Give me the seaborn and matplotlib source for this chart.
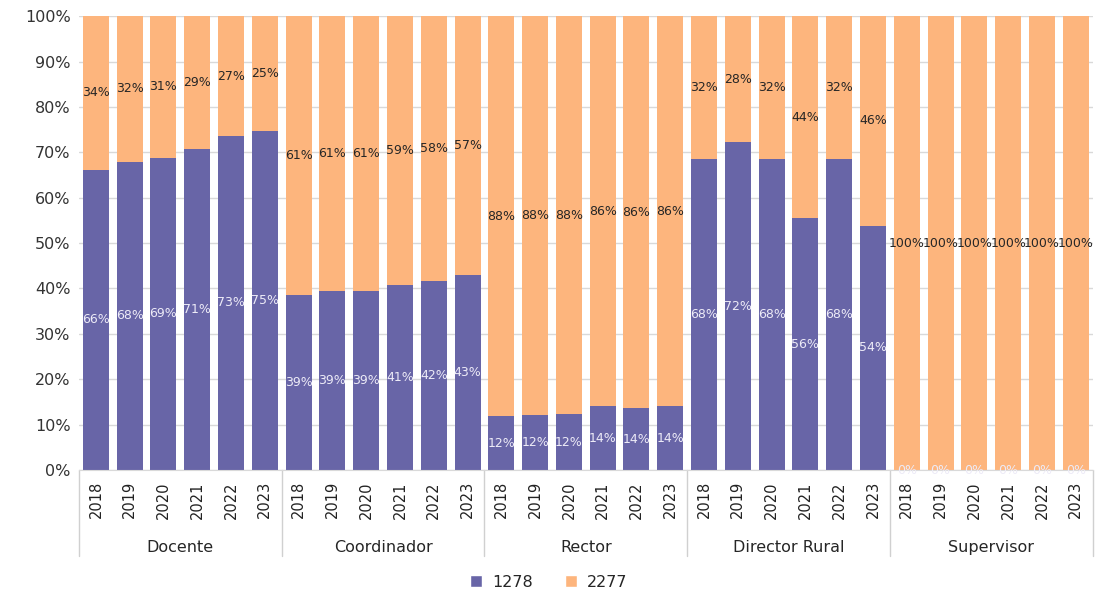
import numpy as np
import pandas as pd
import matplotlib
matplotlib.use("Agg")
import matplotlib.pyplot as plt
import matplotlib.transforms as mtransforms
from matplotlib.patches import Patch
import seaborn as sns

# data (share of 1278 per cargo and year, in %)
groups = ["Docente", "Coordinador", "Rector", "Director Rural", "Supervisor"]
years = ["2018", "2019", "2020", "2021", "2022", "2023"]
share_1278 = {
    "Docente": [66.2, 67.9, 68.8, 70.7, 73.6, 74.8],
    "Coordinador": [38.6, 39.4, 39.4, 40.8, 41.6, 43.0],
    "Rector": [11.8, 12.1, 12.3, 14.0, 13.6, 14.0],
    "Director Rural": [68.5, 72.2, 68.5, 55.5, 68.5, 53.8],
    "Supervisor": [0, 0, 0, 0, 0, 0],
}
labels_1278 = {
    "Docente": [66, 68, 69, 71, 73, 75],
    "Coordinador": [39, 39, 39, 41, 42, 43],
    "Rector": [12, 12, 12, 14, 14, 14],
    "Director Rural": [68, 72, 68, 56, 68, 54],
    "Supervisor": [0, 0, 0, 0, 0, 0],
}
labels_2277 = {
    "Docente": [34, 32, 31, 29, 27, 25],
    "Coordinador": [61, 61, 61, 59, 58, 57],
    "Rector": [88, 88, 88, 86, 86, 86],
    "Director Rural": [32, 28, 32, 44, 32, 46],
    "Supervisor": [100, 100, 100, 100, 100, 100],
}

purple = "#6865A7"
orange = "#FDB57D"

rows = []
for g in groups:
    for i, y in enumerate(years):
        rows.append({"key": g + "_" + y, "group": g, "year": y,
                     "p1278": share_1278[g][i], "total": 100.0,
                     "l1278": labels_1278[g][i], "l2277": labels_2277[g][i]})
df = pd.DataFrame(rows)
order = df["key"].tolist()

sns.set_style("white")
plt.rcParams["font.family"] = ["DejaVu Sans"]

fig = plt.figure(figsize=(10.97, 5.97), dpi=100)
ax = fig.add_axes([0.072, 0.2127, 0.924, 0.7603])

# stacked 100%: full bar in orange, 1278 share on top in purple
sns.barplot(data=df, x="key", y="total", order=order, color=orange,
            width=0.77, saturation=1, ax=ax, errorbar=None, linewidth=0)
sns.barplot(data=df, x="key", y="p1278", order=order, color=purple,
            width=0.77, saturation=1, ax=ax, errorbar=None, linewidth=0)

n = len(order)
ax.set_xlim(-0.5, n - 0.5)
ax.set_ylim(0, 100)
ax.set_yticks(np.arange(0, 101, 10))
ax.set_yticklabels([f"{v}%" for v in range(0, 101, 10)], fontsize=11.5, color="#333333")
ax.yaxis.grid(True, color="#D9D9D9", linewidth=1)
ax.set_axisbelow(True)
ax.set_xticks(range(n))
ax.set_xticklabels(df["year"], rotation=90, fontsize=10.5, color="#222222")
ax.tick_params(axis="x", length=0, pad=8)
ax.tick_params(axis="y", length=0, pad=6)
ax.set_xlabel("")
ax.set_ylabel("")
for s in ["top", "right", "left"]:
    ax.spines[s].set_visible(False)
ax.spines["bottom"].set_color("#D9D9D9")

# value labels, centred in each segment
for i, r in df.iterrows():
    p = r["p1278"]
    ax.text(i, p / 2, f"{r['l1278']}%", ha="center", va="center",
            fontsize=9, color="#EDEBF7")
    ax.text(i, p + (100 - p) / 2, f"{r['l2277']}%", ha="center", va="center",
            fontsize=9, color="#262626")

# group labels and separators below the axis
trans = mtransforms.blended_transform_factory(ax.transData, ax.transAxes)
for k, g in enumerate(groups):
    ax.text(k * 6 + 2.5, -0.17, g, transform=trans, ha="center", va="center",
            fontsize=11.5, color="#262626")
for k in range(len(groups) + 1):
    ax.plot([k * 6 - 0.5, k * 6 - 0.5], [0, -0.19], transform=trans,
            color="#D0D0D0", linewidth=1, clip_on=False)

handles = [Patch(facecolor=purple, label="1278"), Patch(facecolor=orange, label="2277")]
fig.legend(handles=handles, loc="lower center", bbox_to_anchor=(0.5, -0.012), ncol=2,
           frameon=False, fontsize=11.5, handlelength=0.8, handleheight=0.8,
           columnspacing=2.0, handletextpad=0.6)

fig.savefig("out.png", dpi=100)
